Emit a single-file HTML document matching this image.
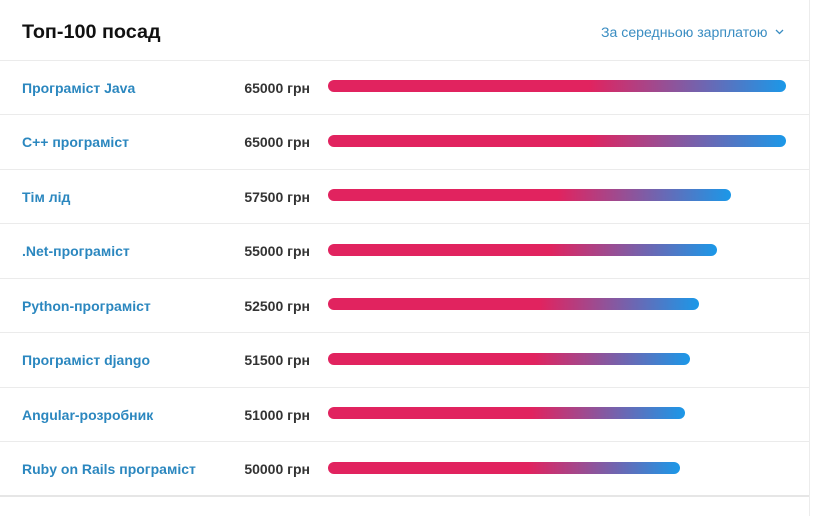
<!DOCTYPE html>
<html>
<head>
<meta charset="utf-8">
<style>
html,body{margin:0;padding:0;background:#fff;}
body{width:813px;height:516px;position:relative;overflow:hidden;font-family:"Liberation Sans",Arial,sans-serif;}
.vr{position:absolute;left:809px;top:0;width:1px;height:516px;background:#ececec;}
.title{position:absolute;left:22px;top:21px;font-size:19.8px;line-height:22px;font-weight:bold;color:#111;}
.dd{position:absolute;left:601px;top:22px;font-size:14.1px;line-height:20px;color:#3a8dc2;}
.chev{position:absolute;left:775px;top:29px;}
.hl{position:absolute;left:0;width:809px;height:1px;background:#ebebeb;}
.name{position:absolute;left:22px;font-size:14px;font-weight:bold;color:#2b87bf;line-height:54px;height:54px;white-space:nowrap;}
.sal{position:absolute;left:200px;width:110px;text-align:right;font-size:14px;font-weight:bold;color:#333;line-height:54px;height:54px;white-space:nowrap;}
.bar{position:absolute;left:327.5px;height:12px;border-radius:6px;background:linear-gradient(to right,#e1235f 0%,#e1235f 57%,#a3488c 71%,#6a68b4 83%,#1b98e8 100%);}
.bot{position:absolute;left:0;top:495px;width:809px;height:2px;background:#e6e6e6;}
</style>
</head>
<body>
<div class="vr"></div>
<div class="title">Топ-100 посад</div>
<div class="dd">За середньою зарплатою</div>
<svg class="chev" width="9" height="6" viewBox="0 0 9 6"><polyline points="1,1 4.5,4.5 8,1" fill="none" stroke="#3a8dc2" stroke-width="1.3"/></svg>

<div class="hl" style="top:60px"></div>
<div class="name" style="top:60.5px">Програміст Java</div>
<div class="sal" style="top:60.5px">65000 грн</div>
<div class="bar" style="top:80px;width:458.5px"></div>

<div class="hl" style="top:114px"></div>
<div class="name" style="top:115px">C++ програміст</div>
<div class="sal" style="top:115px">65000 грн</div>
<div class="bar" style="top:134.5px;width:458.5px"></div>

<div class="hl" style="top:169px"></div>
<div class="name" style="top:169.5px">Тім лід</div>
<div class="sal" style="top:169.5px">57500 грн</div>
<div class="bar" style="top:189px;width:403.5px"></div>

<div class="hl" style="top:223px"></div>
<div class="name" style="top:224px">.Net-програміст</div>
<div class="sal" style="top:224px">55000 грн</div>
<div class="bar" style="top:243.5px;width:389.5px"></div>

<div class="hl" style="top:278px"></div>
<div class="name" style="top:278.5px">Python-програміст</div>
<div class="sal" style="top:278.5px">52500 грн</div>
<div class="bar" style="top:298px;width:371.5px"></div>

<div class="hl" style="top:332px"></div>
<div class="name" style="top:333px">Програміст django</div>
<div class="sal" style="top:333px">51500 грн</div>
<div class="bar" style="top:352.5px;width:362.5px"></div>

<div class="hl" style="top:387px"></div>
<div class="name" style="top:387.5px">Angular-розробник</div>
<div class="sal" style="top:387.5px">51000 грн</div>
<div class="bar" style="top:407px;width:357.5px"></div>

<div class="hl" style="top:441px"></div>
<div class="name" style="top:442px">Ruby on Rails програміст</div>
<div class="sal" style="top:442px">50000 грн</div>
<div class="bar" style="top:461.5px;width:352.5px"></div>

<div class="bot"></div>
</body>
</html>
